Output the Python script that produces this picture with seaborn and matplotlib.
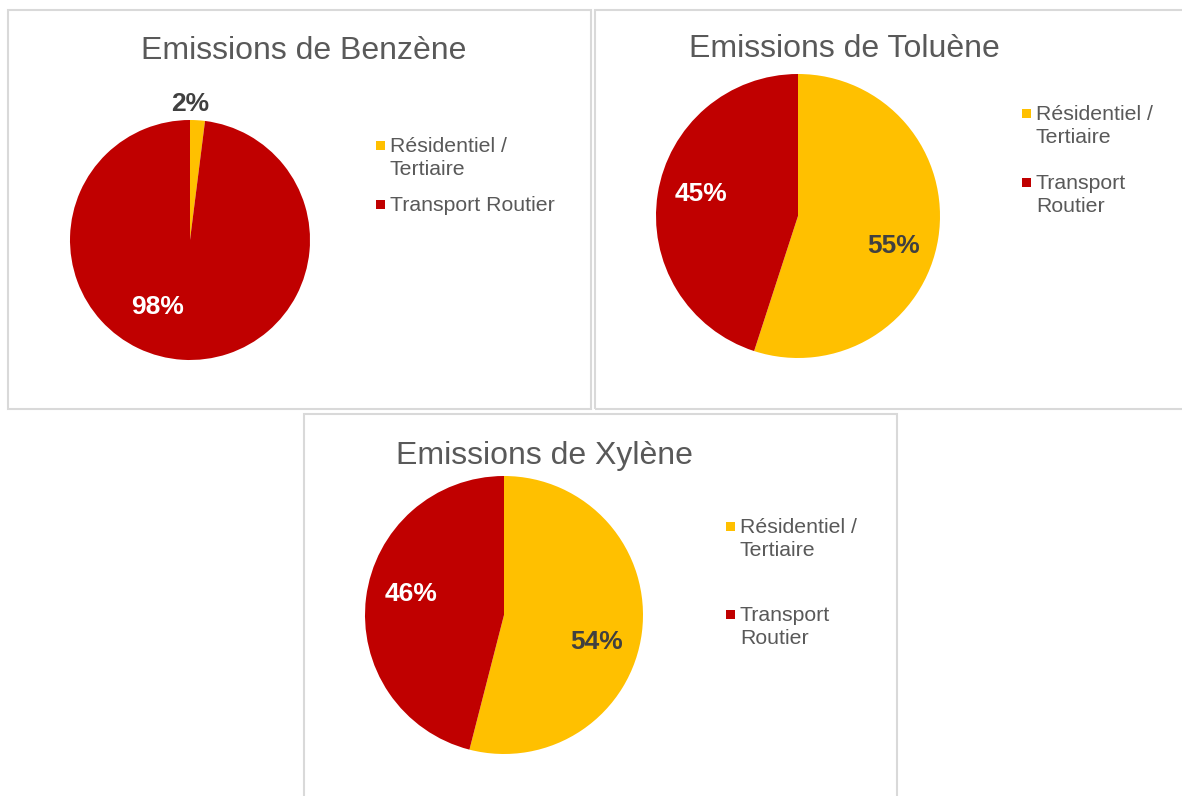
import numpy as np
import matplotlib.pyplot as plt
import seaborn as sns
from matplotlib.patches import Rectangle

sns.set_theme(style="white")
plt.rcParams['font.family'] = ['Liberation Sans', 'DejaVu Sans']

sectors = ["Résidentiel / Tertiaire", "Transport Routier"]
titles = ["Emissions de Benzène", "Emissions de Toluène", "Emissions de Xylène"]
benzene = [2, 98]
toluene = [55, 45]
xylene = [54, 46]
legend_benzene = ["Résidentiel /\nTertiaire", "Transport Routier"]
legend_other = ["Résidentiel /\nTertiaire", "Transport\nRoutier"]

colors = sns.color_palette(["#FFC000", "#C00000"])
pct_colors = ["#404040", "white"]

W, H = 1182, 796
fig = plt.figure(figsize=(W / 100, H / 100), dpi=100)


def fx(x):
    return x / W


def fy(y):
    return 1 - y / H


# panel frames (pixel boxes: left, top, right, bottom)
for l, t, r, b in [(8, 10, 591, 409), (595, 10, 1190, 409), (304, 414, 897, 810)]:
    fig.patches.append(Rectangle((fx(l), fy(b)), fx(r - l), (b - t) / H,
                                 transform=fig.transFigure, fill=False,
                                 edgecolor="#D9D9D9", linewidth=1.5))

# label placement in pie-radius units (Excel "best fit" look)
label_pos = [
    [(0, 1.135), (-0.27, -0.555)],
    [(0.676, -0.21), (-0.683, 0.155)],
    [(0.669, -0.195), (-0.669, 0.15)],
]

panels = [
    # values, title, legend labels, pie centre, radius, title pos, legend pos, legend gaps
    (benzene, titles[0], legend_benzene, (190, 240), 120, (304, 48), (376, 145), [0, 59]),
    (toluene, titles[1], legend_other, (798, 216), 142, (844, 46), (1022, 113), [0, 69]),
    (xylene, titles[2], legend_other, (504, 615), 139, (544, 453), (726, 526), [0, 88]),
]

for i, (vals, title, leg, (cx, cy), rad, (tx, ty), (lx, ly), gaps) in enumerate(panels):
    ax = fig.add_axes([fx(cx - rad), fy(cy + rad), 2 * rad / W, 2 * rad / H])
    wedges, texts, autotexts = ax.pie(vals, colors=colors, startangle=90, counterclock=False,
                                      autopct=lambda p: f"{p:.0f}%", pctdistance=0.7,
                                      radius=1, wedgeprops=dict(linewidth=0),
                                      textprops=dict(fontsize=19, fontweight="bold"))
    ax.set_xlim(-1, 1)
    ax.set_ylim(-1, 1)
    ax.set_aspect("auto")
    ax.axis("off")
    for at, c, pos in zip(autotexts, pct_colors, label_pos[i]):
        at.set_color(c)
        at.set_position(pos)
        at.set_clip_on(False)

    fig.text(fx(tx), fy(ty + 3), title, ha="center", va="center", fontsize=23, color="#595959")

    for lab, c, g in zip(leg, colors, gaps):
        y = ly + g
        fig.patches.append(Rectangle((fx(lx), fy(y + 5)), fx(9), 9 / H,
                                     transform=fig.transFigure, facecolor=c, edgecolor="none"))
        fig.text(fx(lx + 14), fy(y - 8), lab, ha="left", va="top", fontsize=15.3,
                 color="#595959", linespacing=1.25)

fig.savefig("out.png", dpi=100, facecolor="white")
